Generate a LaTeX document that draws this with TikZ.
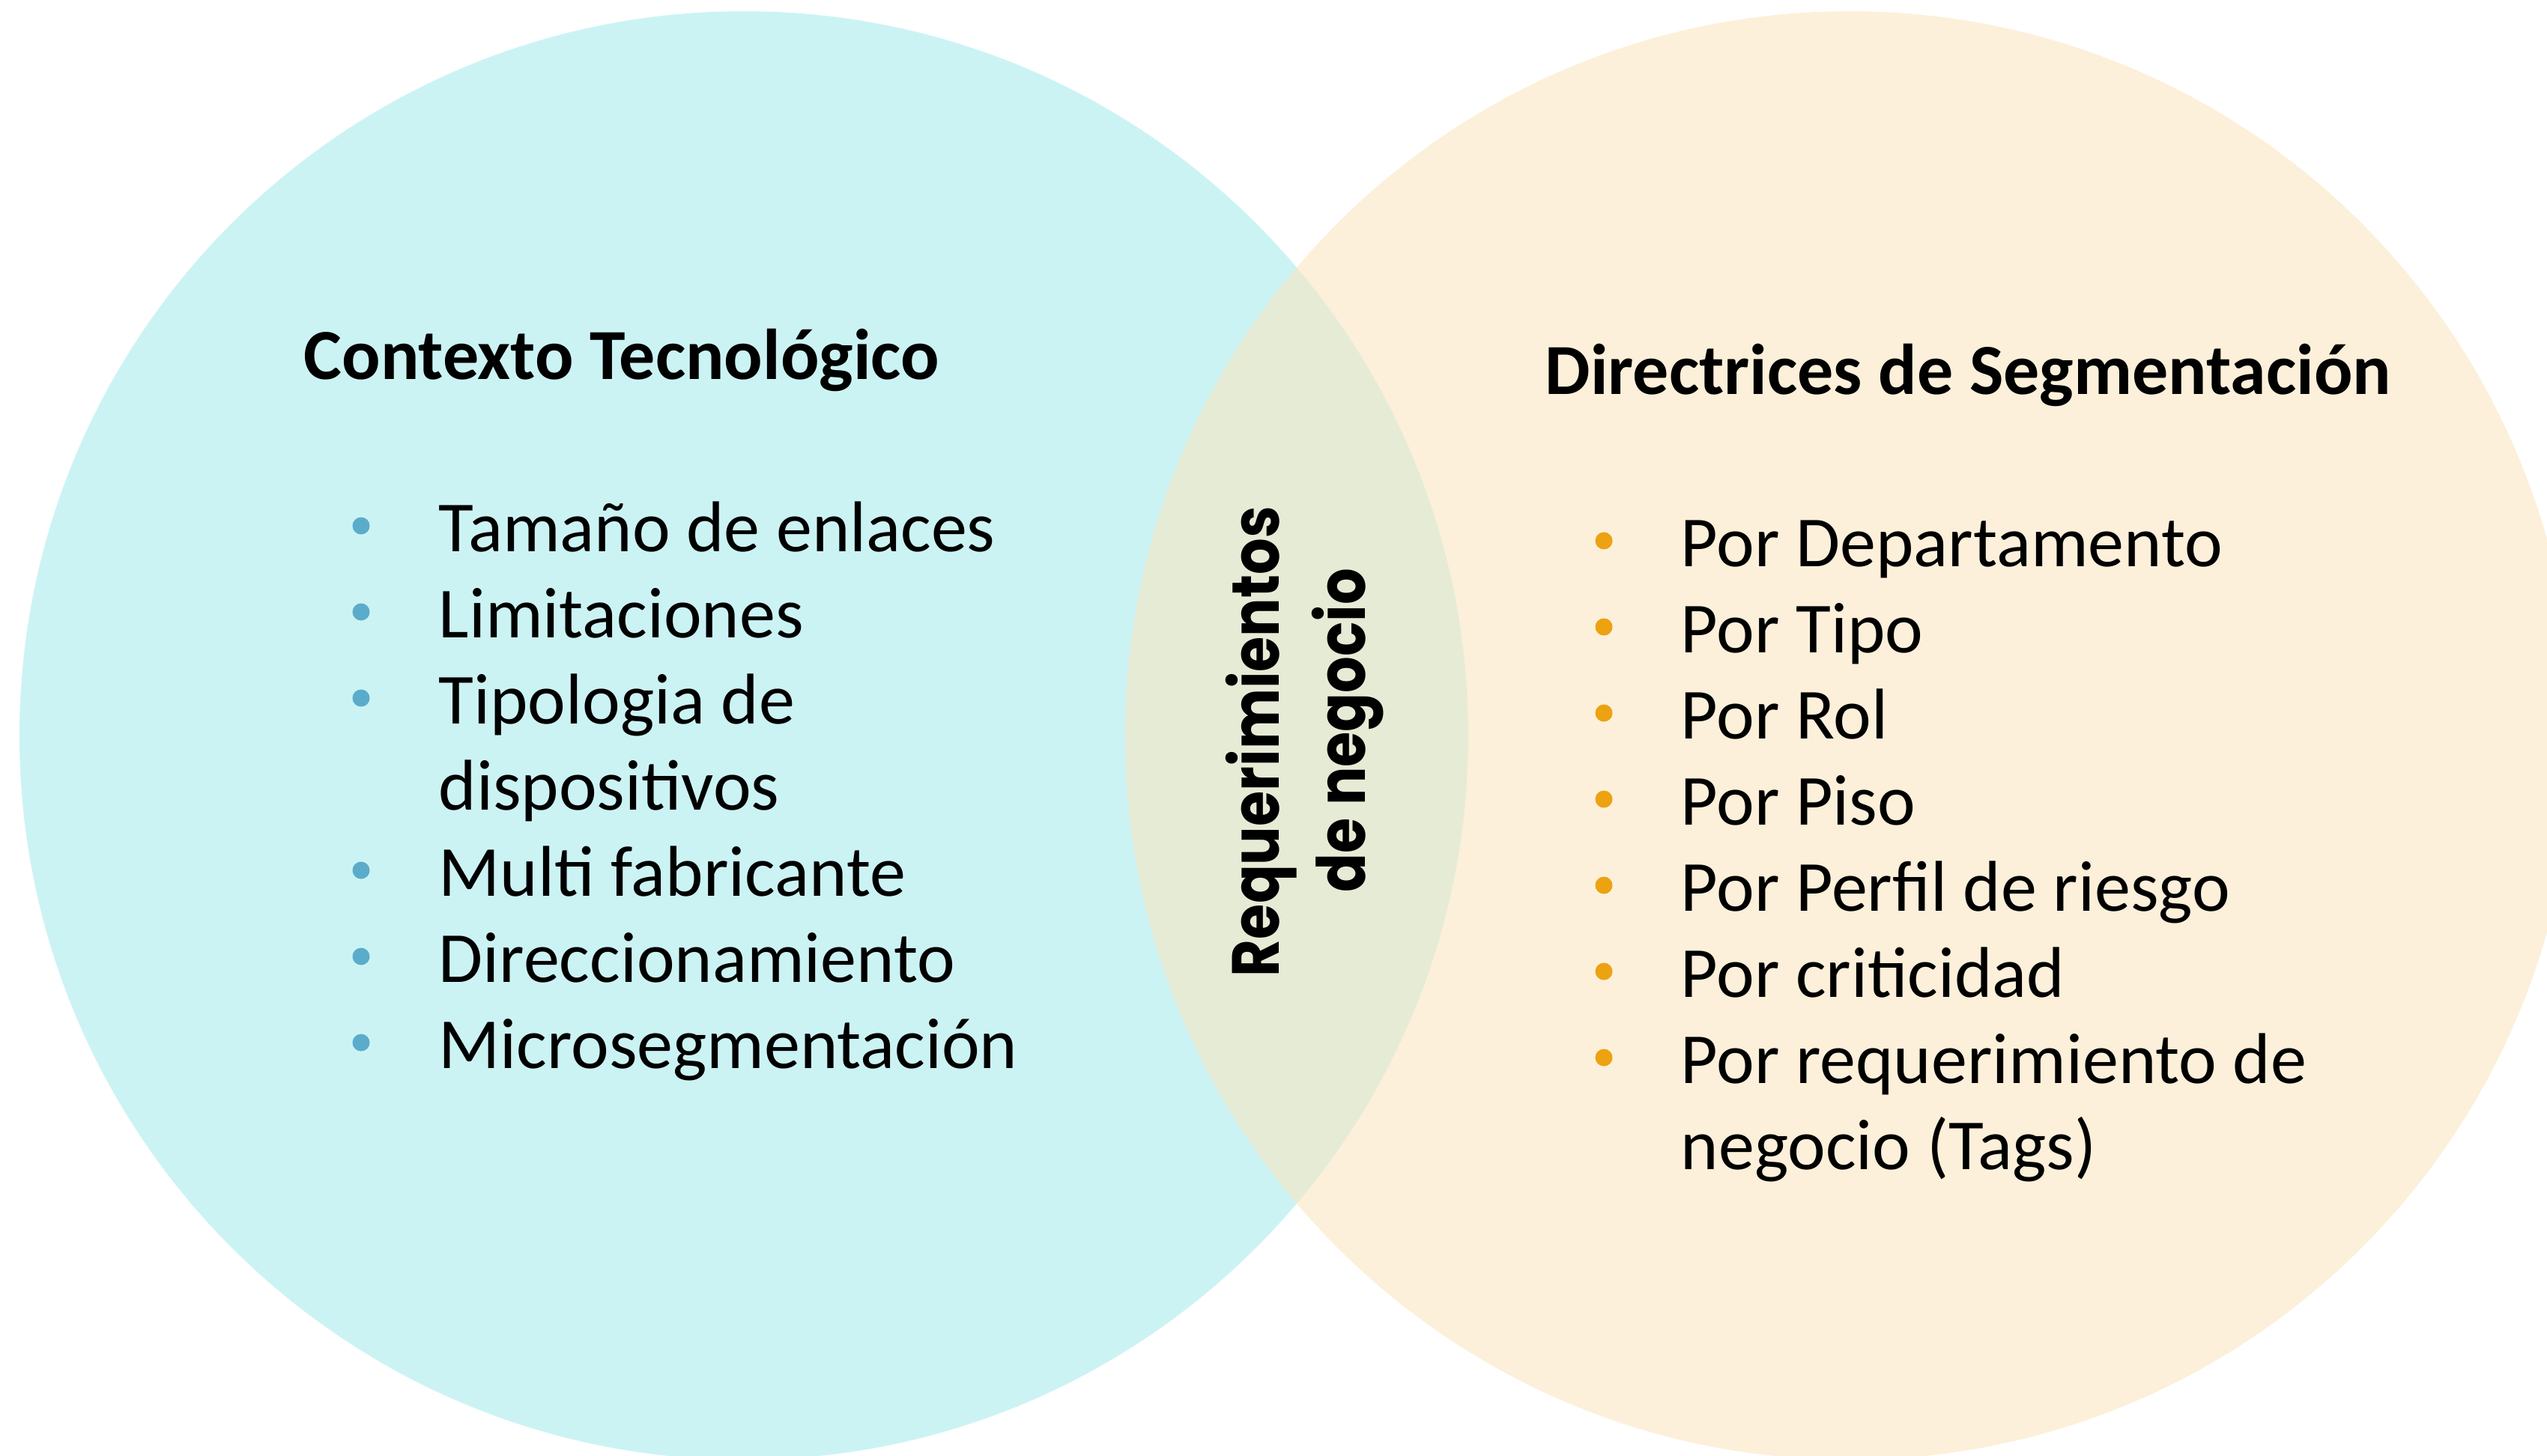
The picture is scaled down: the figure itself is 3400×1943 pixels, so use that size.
\documentclass[tikz,border=0pt]{standalone}
\usepackage{fontspec}
\setmainfont{Carlito}
\newfontfamily\vfont{Poppins}
\usepackage{graphicx}
\definecolor{leftc}{RGB}{204,243,244}
\definecolor{rightc}{RGB}{252,240,218}
\definecolor{midc}{RGB}{230,235,214}
\definecolor{bblue}{RGB}{91,172,202}
\definecolor{borange}{RGB}{236,162,17}
\tikzset{
  title/.style={anchor=base west, inner sep=0pt, font=\fontsize{24pt}{28pt}\selectfont\bfseries},
  item/.style={anchor=base west, inner sep=0pt, font=\fontsize{24pt}{28pt}\selectfont},
  dot/.style={circle, inner sep=0pt, minimum size=5.75pt, fill=#1},
  vtext/.style={anchor=base, inner sep=0pt, rotate=90, font=\fontsize{22.25pt}{28pt}\vfont\bfseries}
}
\begin{document}
\begin{tikzpicture}[x=0.25pt,y=-0.25pt]
\useasboundingbox (0,0) rectangle (3400,1943);
\begin{scope}
  \clip (0,0) rectangle (3400,1943);
  \fill[leftc] (993,982) circle[radius=967];
  \fill[rightc] (2469,982) circle[radius=967];
  \begin{scope}
    \clip (993,982) circle[radius=967];
    \fill[midc] (2469,982) circle[radius=967];
  \end{scope}
\end{scope}

% Left title and items
\node[title] (lt) at (405,506) {Contexto Tecnológico};
\node[item] (l1) at (585,736) {Tamaño de enlaces};
\node[item] (l2) at (585,851) {Limitaciones};
\node[item] (l3) at (585,966) {Tipologia de};
\node[item] (l3b) at (585,1081) {dispositivos};
\node[item] (l4) at (585,1196) {Multi fabricante};
\node[item] (l5) at (585,1311) {Direccionamiento};
\node[item] (l6) at (585,1426) {Microsegmentación};
\foreach \y/\n in {736/1,851/2,966/3,1196/4,1311/5,1426/6}
  \node[dot=bblue] (ld\n) at (482,\y-34) {};

% Right title and items
\node[title] (rt) at (2062,526) {Directrices de Segmentación};
\node[item] (r1) at (2243,756) {Por Departamento};
\node[item] (r2) at (2243,871) {Por Tipo};
\node[item] (r3) at (2243,986) {Por Rol};
\node[item] (r4) at (2243,1101) {Por Piso};
\node[item] (r5) at (2243,1216) {Por Perfil de riesgo};
\node[item] (r6) at (2243,1331) {Por criticidad};
\node[item] (r7) at (2243,1446) {Por requerimiento de};
\node[item] (r7b) at (2243,1561) {negocio (Tags)};
\foreach \y/\n in {756/1,871/2,986/3,1101/4,1216/5,1331/6,1446/7}
  \node[dot=borange] (rd\n) at (2141,\y-34) {};

% Middle vertical text
\node[vtext] (m1) at (1707,990) {\scalebox{0.86}[1]{Requerimientos}};
\node[vtext] (m2) at (1822,975) {\scalebox{0.86}[1]{de negocio}};
\end{tikzpicture}
\end{document}
